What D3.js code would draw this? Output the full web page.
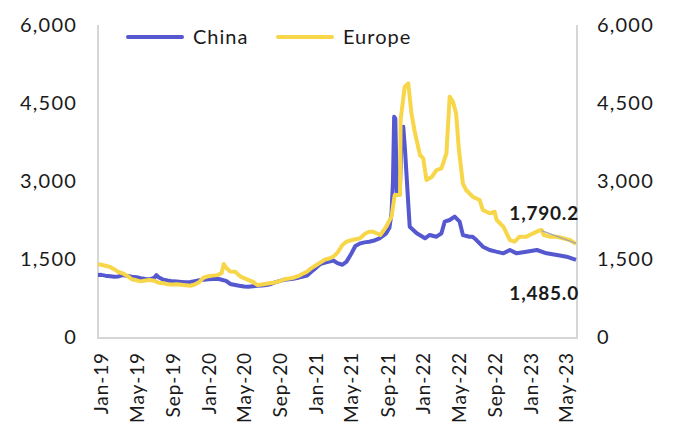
<!DOCTYPE html>
<html>
<head>
<meta charset="utf-8">
<script src="https://cdn.jsdelivr.net/npm/d3@7"></script>
<style>
  html, body { margin: 0; padding: 0; background: #ffffff; }
  svg { display: block; }
  text { font-family: "Lato", "Open Sans", sans-serif; fill: #1a1a1a; }
</style>
</head>
<body>
<svg id="chart" width="675" height="430"></svg>
<script>
// ---- Data ----
const seriesNames = ["China", "Europe"];
const yTicks = [0, 1500, 3000, 4500, 6000];
const xTickDates = ["2019-01-01","2019-05-01","2019-09-01","2020-01-01","2020-05-01","2020-09-01",
  "2021-01-01","2021-05-01","2021-09-01","2022-01-01","2022-05-01","2022-09-01","2023-01-01","2023-05-01"];

const chinaData = [
  ["2018-12-21",1192],["2019-01-01",1195],["2019-01-15",1180],["2019-02-01",1170],["2019-02-15",1160],
  ["2019-03-01",1165],["2019-03-15",1190],["2019-04-01",1175],["2019-04-15",1160],["2019-05-01",1150],
  ["2019-05-15",1130],["2019-06-01",1115],["2019-06-15",1110],["2019-07-01",1140],["2019-07-08",1192],
  ["2019-07-15",1150],["2019-08-01",1100],["2019-08-15",1085],["2019-09-01",1070],["2019-09-15",1065],
  ["2019-10-01",1060],["2019-10-15",1055],["2019-11-01",1060],["2019-11-15",1075],["2019-12-01",1090],
  ["2019-12-15",1100],["2020-01-01",1110],["2020-01-15",1115],["2020-02-01",1120],["2020-02-15",1100],
  ["2020-03-01",1080],["2020-03-15",1020],["2020-04-01",1000],["2020-04-15",985],["2020-05-01",970],
  ["2020-05-15",965],["2020-06-01",975],["2020-06-15",985],["2020-07-01",990],["2020-07-15",1000],
  ["2020-08-01",1020],["2020-08-15",1050],["2020-09-01",1080],["2020-09-15",1100],["2020-10-01",1110],
  ["2020-10-15",1120],["2020-11-01",1140],["2020-11-15",1160],["2020-12-01",1180],["2020-12-15",1250],
  ["2021-01-01",1330],["2021-01-15",1400],["2021-02-01",1430],["2021-02-15",1449],["2021-03-01",1470],
  ["2021-03-15",1420],["2021-04-01",1390],["2021-04-15",1450],["2021-05-01",1600],["2021-05-15",1750],
  ["2021-06-01",1801],["2021-06-15",1820],["2021-07-01",1833],["2021-07-15",1850],["2021-08-05",1898],
  ["2021-08-28",1994],["2021-09-08",2100],["2021-09-15",2379],["2021-09-20",3000],["2021-09-24",4237],
  ["2021-09-28",4200],["2021-10-03",2800],["2021-10-08",2750],["2021-10-14",2900],["2021-10-19",3900],
  ["2021-10-25",4045],["2021-10-31",3600],["2021-11-11",2571],["2021-11-16",2121],["2021-12-10",1994],
  ["2022-01-07",1898],["2022-01-23",1962],["2022-02-15",1929],["2022-03-04",1994],["2022-03-15",2218],
  ["2022-04-01",2250],["2022-04-18",2314],["2022-05-05",2218],["2022-05-16",1962],["2022-06-07",1929],
  ["2022-06-18",1929],["2022-07-01",1865],["2022-07-12",1801],["2022-07-23",1737],["2022-08-15",1673],
  ["2022-09-06",1641],["2022-10-01",1609],["2022-10-23",1673],["2022-11-15",1609],["2022-12-18",1641],
  ["2023-01-23",1673],["2023-02-25",1609],["2023-04-01",1577],["2023-05-04",1545],["2023-06-05",1485.0]
];

const europeData = [
  ["2018-12-21",1404],["2019-01-01",1390],["2019-01-15",1370],["2019-02-01",1345],["2019-02-15",1300],
  ["2019-03-01",1250],["2019-03-15",1225],["2019-04-01",1170],["2019-04-15",1110],["2019-05-01",1090],
  ["2019-05-15",1070],["2019-06-01",1085],["2019-06-15",1095],["2019-07-01",1080],["2019-07-15",1045],
  ["2019-08-01",1035],["2019-08-15",1015],["2019-09-01",1010],["2019-09-15",1015],["2019-10-01",1005],
  ["2019-10-15",995],["2019-11-01",985],["2019-11-15",1010],["2019-12-01",1060],["2019-12-15",1140],
  ["2020-01-01",1170],["2020-01-15",1180],["2020-02-01",1190],["2020-02-15",1230],["2020-02-22",1404],
  ["2020-03-01",1330],["2020-03-15",1260],["2020-04-01",1256],["2020-04-15",1180],["2020-05-01",1130],
  ["2020-05-15",1100],["2020-06-01",1060],["2020-06-15",1000],["2020-07-01",1010],["2020-07-15",1025],
  ["2020-08-01",1040],["2020-08-15",1050],["2020-09-01",1080],["2020-09-15",1110],["2020-10-01",1125],
  ["2020-10-15",1140],["2020-11-01",1170],["2020-11-15",1210],["2020-12-01",1256],["2020-12-15",1320],
  ["2021-01-01",1380],["2021-01-15",1430],["2021-02-01",1490],["2021-02-15",1510],["2021-03-01",1545],
  ["2021-03-15",1620],["2021-04-01",1770],["2021-04-15",1833],["2021-05-01",1860],["2021-05-15",1880],
  ["2021-06-01",1900],["2021-06-15",1980],["2021-07-01",2025],["2021-07-15",2025],["2021-08-08",1962],
  ["2021-08-28",2121],["2021-09-15",2314],["2021-09-26",2731],["2021-10-14",2731],["2021-10-16",4173],
  ["2021-10-30",4814],["2021-11-11",4878],["2021-11-22",4301],["2021-12-03",3949],["2021-12-21",3500],
  ["2022-01-01",3436],["2022-01-12",3019],["2022-01-31",3083],["2022-02-15",3211],["2022-03-04",3243],
  ["2022-03-21",3532],["2022-04-01",4621],["2022-04-12",4525],["2022-04-23",4301],["2022-05-02",3628],
  ["2022-05-16",2950],["2022-05-27",2827],["2022-06-18",2698],["2022-07-12",2634],["2022-07-23",2442],
  ["2022-08-15",2379],["2022-09-01",2410],["2022-09-08",2250],["2022-10-01",2121],["2022-10-23",1865],
  ["2022-11-08",1833],["2022-11-25",1929],["2022-12-18",1929],["2023-01-10",1994],["2023-02-01",2050],
  ["2023-02-08",2058],["2023-02-15",1962],["2023-03-10",1929],["2023-04-01",1929],["2023-04-22",1898],
  ["2023-05-15",1865],["2023-06-05",1790.2]
];

const trendData = [["2023-02-08",2045],["2023-06-05",1801]];
const endLabels = [{text: "1,790.2", series: "Europe"}, {text: "1,485.0", series: "China"}];

// ---- Layout ----
const svg = d3.select("#chart");
const colors = {China: "#5558CF", Europe: "#F8D64A"};
const parse = d3.timeParse("%Y-%m-%d");
const plotL = 98, plotR = 577, plotT = 25, plotB = 338;

const x = d3.scaleTime()
  .domain([parse("2018-12-21"), parse("2023-06-05")])
  .range([plotL, plotR - 1]);
const y = d3.scaleLinear().domain([0, 6000]).range([337, 25]);

// frame (left, bottom, right)
svg.append("path")
  .attr("d", `M${plotL},${plotT}V${plotB}H${plotR}V${plotT}`)
  .attr("fill", "none").attr("stroke", "#d6d6d6").attr("stroke-width", 2);

// y axes
const fmt = d3.format(",");
const yAxisL = d3.axisLeft(y).tickValues(yTicks).tickFormat(fmt).tickSize(0).tickPadding(0);
const gL = svg.append("g").attr("transform", "translate(77,0)").call(yAxisL);
const yAxisR = d3.axisRight(y).tickValues(yTicks).tickFormat(fmt).tickSize(0).tickPadding(0);
const gR = svg.append("g").attr("transform", "translate(597,0)").call(yAxisR);
[gL, gR].forEach(g => {
  g.select(".domain").remove();
  g.selectAll("text").attr("font-size", 20).attr("letter-spacing", 1.2)
    .attr("font-family", "Lato").attr("fill", "#1a1a1a");
});

// x axis labels
const xAxis = d3.axisBottom(x).tickValues(xTickDates.map(parse))
  .tickFormat(d3.timeFormat("%b-%y")).tickSize(0).tickPadding(0);
const gX = svg.append("g").attr("transform", "translate(0,352)").call(xAxis);
gX.select(".domain").remove();
gX.selectAll("text")
  .attr("transform", "rotate(-90)")
  .attr("x", 0).attr("y", 0).attr("dy", "0.35em")
  .attr("text-anchor", "end")
  .attr("font-size", 19).attr("letter-spacing", 0.9)
  .attr("font-family", "Lato").attr("fill", "#1a1a1a");

// lines
const line = d3.line().x(d => x(parse(d[0]))).y(d => y(d[1])).curve(d3.curveLinear);
svg.append("path").datum(chinaData).attr("d", line)
  .attr("fill", "none").attr("stroke", colors.China).attr("stroke-width", 4).attr("stroke-linejoin", "round");
svg.append("path").datum(europeData).attr("d", line)
  .attr("fill", "none").attr("stroke", colors.Europe).attr("stroke-width", 4).attr("stroke-linejoin", "round");
svg.append("path").datum(trendData).attr("d", line)
  .attr("fill", "none").attr("stroke", "#a6a6a6").attr("stroke-width", 1.5);

// end value labels
const labelY = {Europe: 220, China: 300};
svg.selectAll("text.endlab").data(endLabels).enter().append("text")
  .attr("class", "endlab")
  .attr("x", 579).attr("y", d => labelY[d.series])
  .attr("text-anchor", "end")
  .attr("font-size", 19).attr("font-weight", "bold").attr("letter-spacing", 0.8)
  .text(d => d.text);

// legend
const legend = svg.append("g");
const legX = [128, 278];
seriesNames.forEach((name, i) => {
  legend.append("line").attr("x1", legX[i]).attr("x2", legX[i] + 54)
    .attr("y1", 37).attr("y2", 37)
    .attr("stroke", colors[name]).attr("stroke-width", 4).attr("stroke-linecap", "round");
  legend.append("text").attr("x", legX[i] + 65).attr("y", 37).attr("dy", "0.35em")
    .attr("font-size", 20).attr("letter-spacing", 1).text(name);
});
</script>
</body>
</html>
